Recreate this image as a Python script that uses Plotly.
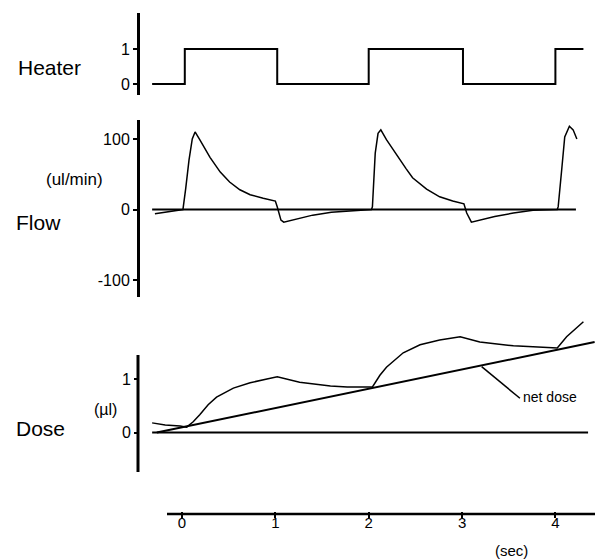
import plotly.graph_objects as go

# ---------------- data ----------------
x_ticks = [0, 1, 2, 3, 4]

heater_t = [-0.32, 0.03, 1.02, 2.00, 3.01, 4.00, 4.30]
heater_v = [0, 1, 0, 1, 0, 1, 1]
heater_ticks = [0, 1]

flow_t = [-0.29, 0.01, 0.04, 0.075, 0.11, 0.14, 0.19, 0.25, 0.30, 0.41, 0.51, 0.62, 0.73, 0.87,
          1.00, 1.02, 1.06, 1.09, 1.25, 1.40, 1.60, 1.77, 1.94, 2.03, 2.04, 2.07, 2.10, 2.13,
          2.19, 2.30, 2.40, 2.47, 2.62, 2.76, 2.90, 3.02, 3.05, 3.10, 3.19, 3.35, 3.55, 3.76,
          4.02, 4.03, 4.07, 4.10, 4.15, 4.19, 4.23]
flow_v = [-6, 0, 30, 70, 100, 110, 99, 85, 74, 53, 39, 28, 21, 16,
          12, 4, -15, -18, -13, -8, -4, -2, 0, 0, 4, 80, 108, 113,
          99, 77, 58, 45, 29, 18, 12, 8, -5, -18, -15, -10, -5, -1,
          0, 4, 60, 103, 118, 113, 100]
flow_zero_t = [-0.32, 4.22]
flow_zero_v = [0, 0]
flow_ticks = [-100, 0, 100]
flow_ticktext = ["-100", "0", "100"]

dose_t = [-0.32, -0.18, -0.02, 0.05, 0.12, 0.19, 0.28, 0.37, 0.55, 0.73, 0.91, 1.02, 1.26,
          1.59, 1.77, 2.04, 2.12, 2.19, 2.37, 2.55, 2.76, 2.98, 3.19, 3.55, 4.02, 4.12, 4.30]
dose_v = [0.18, 0.14, 0.12, 0.10, 0.20, 0.33, 0.52, 0.66, 0.83, 0.93, 1.00, 1.04, 0.94,
          0.87, 0.85, 0.85, 1.07, 1.22, 1.49, 1.64, 1.73, 1.79, 1.69, 1.62, 1.58, 1.79, 2.07]
net_t = [-0.27, 4.42]
net_v = [0.0, 1.69]
dose_zero_t = [-0.32, 4.35]
dose_zero_v = [0, 0]
dose_ticks = [0, 1]

# ---------------- layout helpers ----------------
W, H = 595, 560
FONT = "Liberation Sans, Arial, Helvetica, sans-serif"


def py(p):
    return 1 - p / H


def px(p):
    return p / W


fig = go.Figure()
fig.add_trace(go.Scatter(x=heater_t, y=heater_v, mode="lines", line_shape="hv",
                         line=dict(color="black", width=2), xaxis="x", yaxis="y"))
fig.add_trace(go.Scatter(x=flow_zero_t, y=flow_zero_v, mode="lines",
                         line=dict(color="black", width=2), xaxis="x", yaxis="y2"))
fig.add_trace(go.Scatter(x=flow_t, y=flow_v, mode="lines",
                         line=dict(color="black", width=1.5), xaxis="x", yaxis="y2"))
fig.add_trace(go.Scatter(x=dose_zero_t, y=dose_zero_v, mode="lines",
                         line=dict(color="black", width=2), xaxis="x", yaxis="y3"))
fig.add_trace(go.Scatter(x=net_t, y=net_v, mode="lines",
                         line=dict(color="black", width=2), xaxis="x", yaxis="y3"))
fig.add_trace(go.Scatter(x=dose_t, y=dose_v, mode="lines",
                         line=dict(color="black", width=1.5), xaxis="x", yaxis="y3"))

t_per_px = 1 / 93.35
x0_px = 182.0
xr = [(0 - x0_px) * t_per_px, (W - x0_px) * t_per_px]

yax_common = dict(anchor="free", position=px(138), showgrid=False, zeroline=False,
                  ticks="outside", ticklen=4, tickwidth=2, tickcolor="black",
                  linecolor="black", linewidth=3,
                  tickfont=dict(family=FONT, size=16, color="black"))

fig.update_layout(
    width=W, height=H, margin=dict(l=0, r=0, t=0, b=0),
    paper_bgcolor="white", plot_bgcolor="white", showlegend=False,
    font=dict(family=FONT, color="black"),
    xaxis=dict(domain=[0, 1], range=xr, anchor="free", position=py(511),
               showgrid=False, zeroline=False, showline=False,
               ticks="outside", ticklen=6, tickwidth=2, tickcolor="black",
               ticklabelstandoff=-8,
               tickvals=x_ticks, tickfont=dict(family=FONT, size=15, color="black")),
    yaxis=dict(domain=[py(95), py(13)], range=[(84 - 95) / 35, (84 - 13) / 35],
               tickvals=heater_ticks, showline=True, **yax_common),
    yaxis2=dict(domain=[py(297), py(120)], range=[(209.5 - 297) / 0.705, (209.5 - 120) / 0.705],
                tickvals=flow_ticks, ticktext=flow_ticktext, showline=True, **yax_common),
    yaxis3=dict(domain=[py(480), py(310)], range=[(432.5 - 480) / 53.5, (432.5 - 310) / 53.5],
                tickvals=dose_ticks, showline=False, **yax_common),
)

# axis lines not spanning the whole domain
fig.add_shape(type="line", xref="paper", yref="y3", x0=px(138), x1=px(138),
              y0=(432.5 - 355) / 53.5, y1=(432.5 - 472) / 53.5,
              line=dict(color="black", width=3))
fig.add_shape(type="line", xref="x", yref="paper", x0=(167 - x0_px) * t_per_px,
              x1=(W - x0_px) * t_per_px, y0=py(514), y1=py(514),
              line=dict(color="black", width=2.5))
# net dose leader line
fig.add_shape(type="line", xref="x", yref="y3", x0=3.21, y0=1.23, x1=3.62, y1=0.64,
              line=dict(color="black", width=1.5))


def label(text, x, y, size, anchor="left"):
    fig.add_annotation(text=text, xref="paper", yref="paper", x=px(x), y=py(y),
                       xanchor=anchor, yanchor="middle", showarrow=False,
                       font=dict(family=FONT, size=size, color="black"))


label("Heater", 16, 67, 21)
label("Flow", 14, 223, 21)
label("(ul/min)", 44, 180, 17)
label("Dose", 14, 428, 21)
label("(µl)", 92, 409, 16)
label("net dose", 521, 397, 14)
label("(sec)", 493, 550, 15)

fig.write_html("out.html", config={"displayModeBar": False},
               post_script="document.body.style.margin='0';document.body.style.padding='0';"
                           "document.documentElement.style.overflow='hidden';")
